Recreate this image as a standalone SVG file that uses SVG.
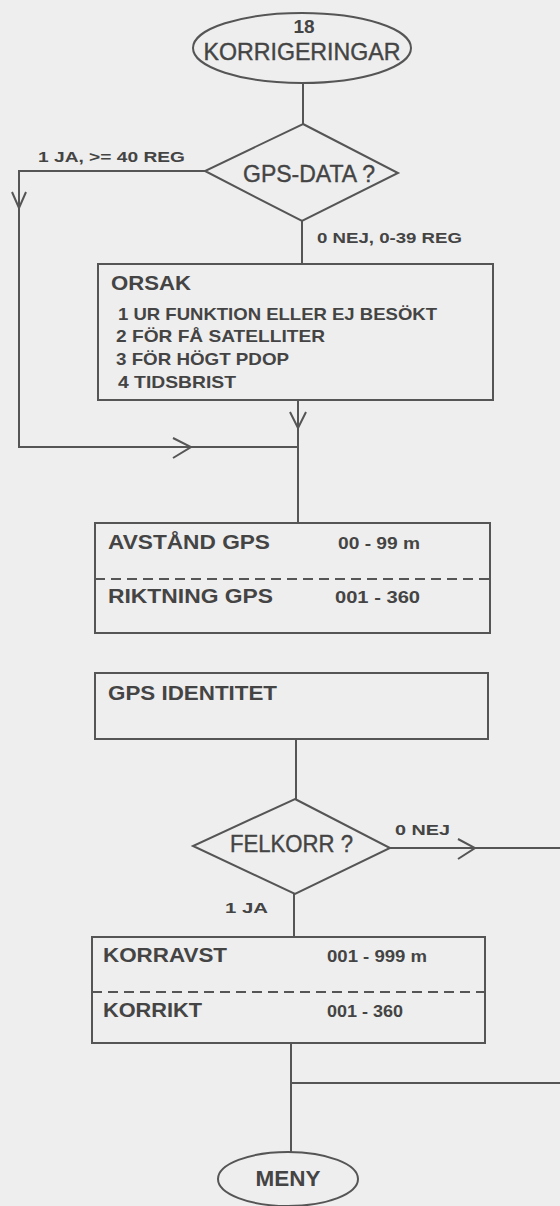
<svg xmlns="http://www.w3.org/2000/svg" width="560" height="1206" viewBox="0 0 560 1206">
<style>
.bg{fill:#eeeeee}
.sh{fill:none;stroke:#555;stroke-width:2}
.ln{fill:none;stroke:#555;stroke-width:2}
.ar{fill:none;stroke:#555;stroke-width:2}
.dash{fill:none;stroke:#555;stroke-width:2;stroke-dasharray:10 6}
text{font-family:"Liberation Sans",Arial,sans-serif;fill:#444}
.big{font-size:24px;stroke:#444;stroke-width:0.4}
.box{font-size:21px;font-weight:bold}
.sm{font-size:15px;font-weight:bold}
.rng{font-size:16px;font-weight:bold}
.ors{font-size:17px;font-weight:bold}
</style>
<rect class="bg" x="0" y="0" width="560" height="1206"/>
<g id="connectors">
<line class="ln" x1="303" y1="83" x2="303" y2="124"/>
<polyline class="ln" points="205,171 19,171 19,447 298,447"/>
<line class="ln" x1="302" y1="221" x2="302" y2="264"/>
<line class="ln" x1="298" y1="400" x2="298" y2="523"/>
<line class="ln" x1="296" y1="739" x2="296" y2="799"/>
<line class="ln" x1="390" y1="848" x2="560" y2="848"/>
<line class="ln" x1="294" y1="894" x2="294" y2="937"/>
<line class="ln" x1="291" y1="1043" x2="291" y2="1152"/>
<line class="ln" x1="291" y1="1083" x2="560" y2="1083"/>
<polyline class="ar" points="12,192 19,208 26,192"/>
<polyline class="ar" points="290,412 298,428 306,412"/>
<polyline class="ar" points="173,438 191,447 173,458"/>
<polyline class="ar" points="458,839 475,848 458,859"/>
<text class="sm" x="38" y="162" textLength="147" lengthAdjust="spacingAndGlyphs">1 JA, &gt;= 40 REG</text>
<text class="sm" x="317" y="243" textLength="145" lengthAdjust="spacingAndGlyphs">0 NEJ, 0-39 REG</text>
<text class="sm" x="395" y="835" textLength="55" lengthAdjust="spacingAndGlyphs">0 NEJ</text>
<text class="sm" x="225" y="913" textLength="43" lengthAdjust="spacingAndGlyphs">1 JA</text>
</g>
<g id="start">
<ellipse class="sh" cx="302" cy="48" rx="109" ry="35"/>
<text x="304" y="33" font-size="19" font-weight="bold" text-anchor="middle">18</text>
<text class="big" x="302" y="60" text-anchor="middle" textLength="197" lengthAdjust="spacingAndGlyphs">KORRIGERINGAR</text>
</g>
<g id="gpsdata">
<polygon class="sh" points="303,124 398,173 302,221 205,171"/>
<text class="big" x="243" y="182" textLength="132" lengthAdjust="spacingAndGlyphs">GPS-DATA ?</text>
</g>
<g id="orsak">
<rect class="sh" x="98" y="264" width="395" height="136"/>
<text x="111" y="290" font-size="21" font-weight="bold" textLength="80" lengthAdjust="spacingAndGlyphs">ORSAK</text>
<text class="ors" x="118" y="320" textLength="319" lengthAdjust="spacingAndGlyphs">1 UR FUNKTION ELLER EJ BESÖKT</text>
<text class="ors" x="116" y="342" textLength="209" lengthAdjust="spacingAndGlyphs">2 FÖR FÅ SATELLITER</text>
<text class="ors" x="116" y="365" textLength="173" lengthAdjust="spacingAndGlyphs">3 FÖR HÖGT PDOP</text>
<text class="ors" x="118" y="388" textLength="118" lengthAdjust="spacingAndGlyphs">4 TIDSBRIST</text>
</g>
<g id="avstand">
<rect class="sh" x="95" y="523" width="395" height="110"/>
<line class="dash" x1="95" y1="579" x2="490" y2="579"/>
<text class="box" x="108" y="549" textLength="162" lengthAdjust="spacingAndGlyphs">AVSTÅND GPS</text>
<text class="rng" x="338" y="549" textLength="82" lengthAdjust="spacingAndGlyphs">00 - 99 m</text>
<text class="box" x="108" y="603" textLength="165" lengthAdjust="spacingAndGlyphs">RIKTNING GPS</text>
<text class="rng" x="335" y="603" textLength="85" lengthAdjust="spacingAndGlyphs">001 - 360</text>
</g>
<g id="identitet">
<rect class="sh" x="95" y="673" width="393" height="66"/>
<text class="box" x="108" y="700" textLength="169" lengthAdjust="spacingAndGlyphs">GPS IDENTITET</text>
</g>
<g id="felkorr">
<polygon class="sh" points="295,799 390,848 295,894 193,846"/>
<text class="big" x="230" y="852" textLength="123" lengthAdjust="spacingAndGlyphs">FELKORR ?</text>
</g>
<g id="korr">
<rect class="sh" x="92" y="937" width="393" height="106"/>
<line class="dash" x1="92" y1="992" x2="485" y2="992"/>
<text class="box" x="103" y="962" textLength="124" lengthAdjust="spacingAndGlyphs">KORRAVST</text>
<text class="rng" x="327" y="962" textLength="100" lengthAdjust="spacingAndGlyphs">001 - 999 m</text>
<text class="box" x="103" y="1017" textLength="99" lengthAdjust="spacingAndGlyphs">KORRIKT</text>
<text class="rng" x="327" y="1017" textLength="76" lengthAdjust="spacingAndGlyphs">001 - 360</text>
</g>
<g id="meny">
<ellipse class="sh" cx="288" cy="1179" rx="70" ry="27"/>
<text x="288" y="1186" font-size="22" font-weight="bold" text-anchor="middle" textLength="65" lengthAdjust="spacingAndGlyphs">MENY</text>
</g>
</svg>
